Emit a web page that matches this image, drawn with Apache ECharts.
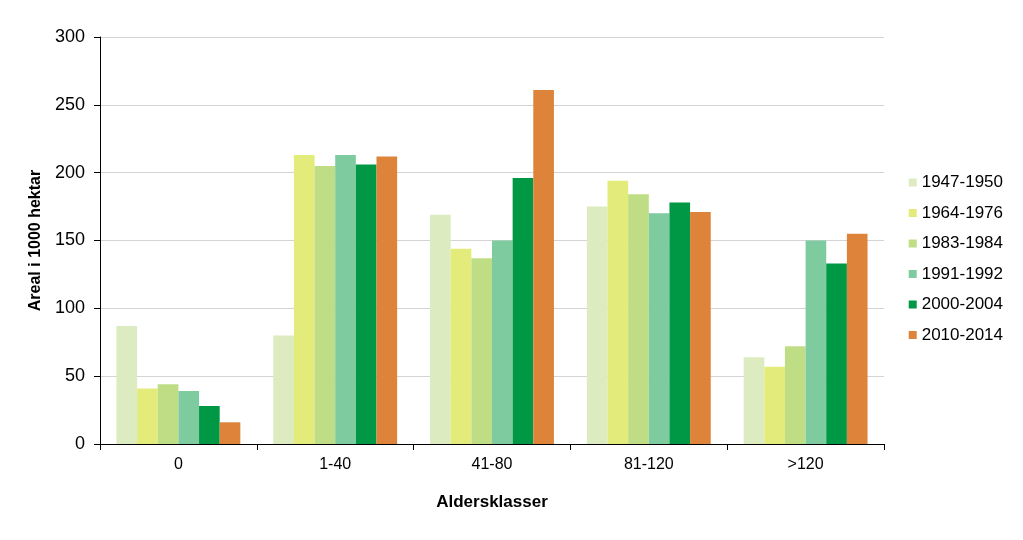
<!DOCTYPE html>
<html><head><meta charset="utf-8">
<script src="https://cdn.jsdelivr.net/npm/echarts@6/dist/echarts.min.js"></script>
<style>html,body{margin:0;padding:0;background:#fff}#c{width:1023px;height:540px}</style>
</head><body><div id="c"></div>
<script>
const categories = ['0', '1-40', '41-80', '81-120', '>120'];
const seriesNames = ['1947-1950', '1964-1976', '1983-1984', '1991-1992', '2000-2004', '2010-2014'];
const s1947 = [87, 80, 169, 175, 64];
const s1964 = [41, 213, 144, 194, 57];
const s1983 = [44, 205, 137, 184, 72];
const s1991 = [39, 213, 150, 170, 150];
const s2000 = [28, 206, 196, 178, 133];
const s2010 = [16, 212, 261, 171, 155];
const yTicks = [0, 50, 100, 150, 200, 250, 300];
const colors = ['#dcebc0', '#e3eb7a', '#bedd85', '#7fcba0', '#009844', '#de833a'];
const allData = [s1947, s1964, s1983, s1991, s2000, s2010];

const chart = echarts.init(document.getElementById('c'));
const font = 'Liberation Sans, Arial, sans-serif';
chart.setOption({
  animation: false,
  textStyle: { fontFamily: font },
  grid: { left: 100, right: 139, top: 37, bottom: 96, containLabel: false },
  legend: {
    orient: 'vertical', right: 15, top: 169,
    itemWidth: 8, itemHeight: 8, itemGap: 13.5,
    icon: 'rect',
    textStyle: { fontSize: 17, color: '#000', fontFamily: font, padding: [0, 0, 0, 0] },
    data: seriesNames
  },
  xAxis: {
    type: 'category', data: categories,
    name: 'Aldersklasser', nameLocation: 'middle', nameGap: 50,
    nameTextStyle: { fontWeight: 'bold', fontSize: 17, color: '#000' },
    axisLine: { lineStyle: { color: '#000', width: 1 } },
    axisTick: { show: true, length: 6, lineStyle: { color: '#000' } },
    axisLabel: { fontSize: 16, color: '#000', margin: 13 }
  },
  yAxis: {
    type: 'value', min: yTicks[0], max: yTicks[yTicks.length - 1], interval: 50,
    name: 'Areal i 1000 hektar', nameLocation: 'middle', nameGap: 54,
    nameTextStyle: { fontWeight: 'bold', fontSize: 16, color: '#000' },
    axisLine: { show: true, lineStyle: { color: '#000', width: 1 } },
    axisTick: { show: true, length: 6, lineStyle: { color: '#000' } },
    axisLabel: { fontSize: 18, color: '#000', margin: 15 },
    splitLine: { lineStyle: { color: '#d4d4d4', width: 1 } }
  },
  series: seriesNames.map((n, i) => ({
    name: n, type: 'bar', data: allData[i],
    barGap: '0%', barCategoryGap: '21%',
    itemStyle: { color: colors[i] }
  }))
});
</script></body></html>
